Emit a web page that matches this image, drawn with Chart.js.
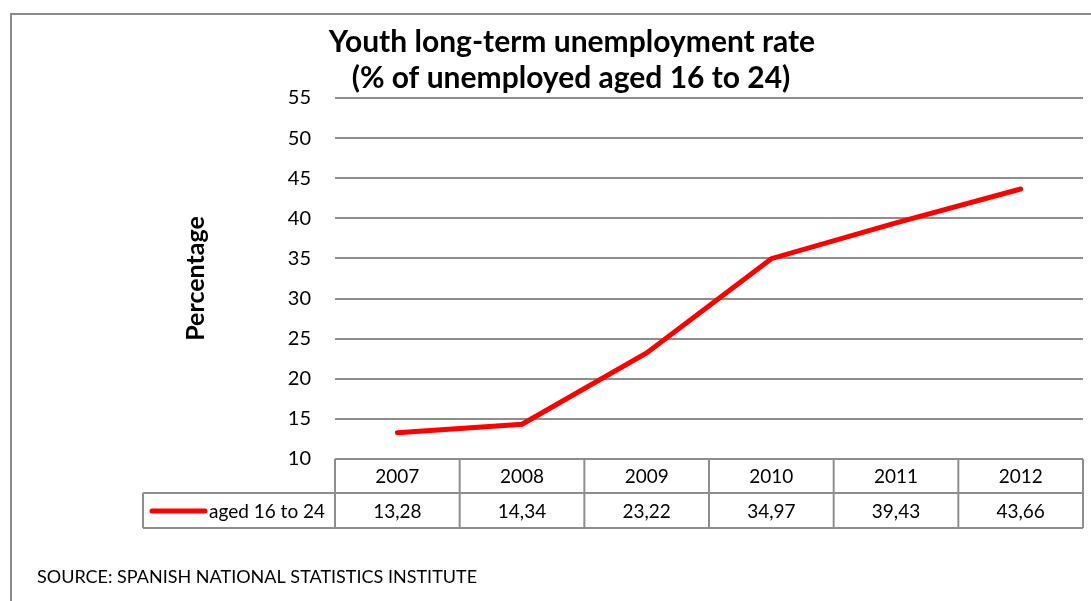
<!DOCTYPE html>
<html>
<head>
<meta charset="utf-8">
<script src="https://cdn.jsdelivr.net/npm/chart.js@4"></script>
<style>
  html,body{margin:0;padding:0;background:#fff}
  #wrap{width:1091px;height:601px;position:relative}
</style>
</head>
<body>
<div id="wrap"><canvas id="c" width="1091" height="601"></canvas></div>
<script>
// youth long-term unemployment, % of unemployed aged 16-24
const years = ['2007','2008','2009','2010','2011','2012'];
const rate16to24 = [13.28, 14.34, 23.22, 34.97, 39.43, 43.66];
const seriesName = 'aged 16 to 24';
const titleLines = ['Youth long-term unemployment rate', '(% of unemployed aged 16 to 24)'];
const yTitle = 'Percentage';
const sourceNote = 'SOURCE: SPANISH NATIONAL STATISTICS INSTITUTE';

const FONT = "Lato, 'Open Sans', sans-serif";
const red = '#ff0000', grid = '#8e8e8e';
const fmt = v => v.toFixed(2).replace('.', ',');

// frame, title, data table under the plot, source line
const decor = {
  id: 'decor',
  beforeDraw(chart){
    const ctx = chart.ctx;
    ctx.save();
    ctx.fillStyle = '#fff';
    ctx.fillRect(0, 0, chart.width, chart.height);
    ctx.strokeStyle = '#8a8a8a';
    ctx.lineWidth = 2;
    ctx.strokeRect(11, 14, chart.width + 20, chart.height + 20);
    ctx.restore();
  },
  afterDraw(chart){
    const ctx = chart.ctx, x = chart.scales.x, area = chart.chartArea;
    const colW = x.getPixelForValue(1) - x.getPixelForValue(0);
    ctx.save();
    ctx.fillStyle = '#000';
    ctx.textAlign = 'center';
    ctx.textBaseline = 'middle';
    ctx.font = 'bold 30px ' + FONT;
    ctx.fillText(titleLines[0], 572, 42);
    ctx.fillText(titleLines[1], 571, 78);

    const top = area.bottom, rowH = 34, legLeft = 143;
    ctx.strokeStyle = grid;
    ctx.lineWidth = 2;
    ctx.beginPath();
    ctx.moveTo(area.left, top); ctx.lineTo(area.right, top);
    ctx.moveTo(legLeft, top + rowH); ctx.lineTo(area.right, top + rowH);
    ctx.moveTo(legLeft, top + 2 * rowH + 1); ctx.lineTo(area.right, top + 2 * rowH + 1);
    ctx.moveTo(legLeft, top + rowH); ctx.lineTo(legLeft, top + 2 * rowH + 1);
    for (let i = 0; i <= years.length; i++) {
      const px = area.left + i * colW;
      ctx.moveTo(px, top); ctx.lineTo(px, top + 2 * rowH + 1);
    }
    ctx.stroke();

    ctx.font = '19px ' + FONT;
    years.forEach((yr, i) => {
      const cx = x.getPixelForValue(i);
      ctx.fillText(yr, cx, top + rowH / 2 + 1);
      ctx.fillText(fmt(rate16to24[i]), cx, top + rowH * 1.5 + 2);
    });

    // legend key inside the table
    const ky = top + rowH * 1.5 + 1;
    ctx.strokeStyle = red;
    ctx.lineWidth = 5;
    ctx.lineCap = 'round';
    ctx.beginPath();
    ctx.moveTo(152, ky); ctx.lineTo(205, ky);
    ctx.stroke();
    ctx.textAlign = 'left';
    ctx.fillText(seriesName, 209, ky + 1);

    ctx.font = '18px ' + FONT;
    ctx.fillText(sourceNote, 37, 577);
    ctx.restore();
  }
};

new Chart(document.getElementById('c'), {
  type: 'line',
  data: {
    labels: years,
    datasets: [{
      label: seriesName,
      data: rate16to24,
      borderColor: red,
      borderWidth: 5,
      pointRadius: 0,
      tension: 0,
      borderCapStyle: 'round'
    }]
  },
  options: {
    responsive: false,
    animation: false,
    devicePixelRatio: 1,
    layout: { padding: { left: 181, right: 8, top: 98, bottom: 142 } },
    plugins: { legend: { display: false }, tooltip: { enabled: false } },
    scales: {
      x: { type: 'category', offset: true, display: false },
      y: {
        min: 10, max: 55,
        afterFit: s => { s.width = 154; },
        border: { display: false },
        grid: { color: grid, lineWidth: 2, drawTicks: false },
        ticks: { stepSize: 5, padding: 24, color: '#000', font: { family: FONT, size: 20 } },
        title: { display: true, text: yTitle, color: '#000', padding: 0, font: { family: FONT, size: 25, weight: 'bold' } }
      }
    }
  },
  plugins: [decor]
});
</script>
</body>
</html>
